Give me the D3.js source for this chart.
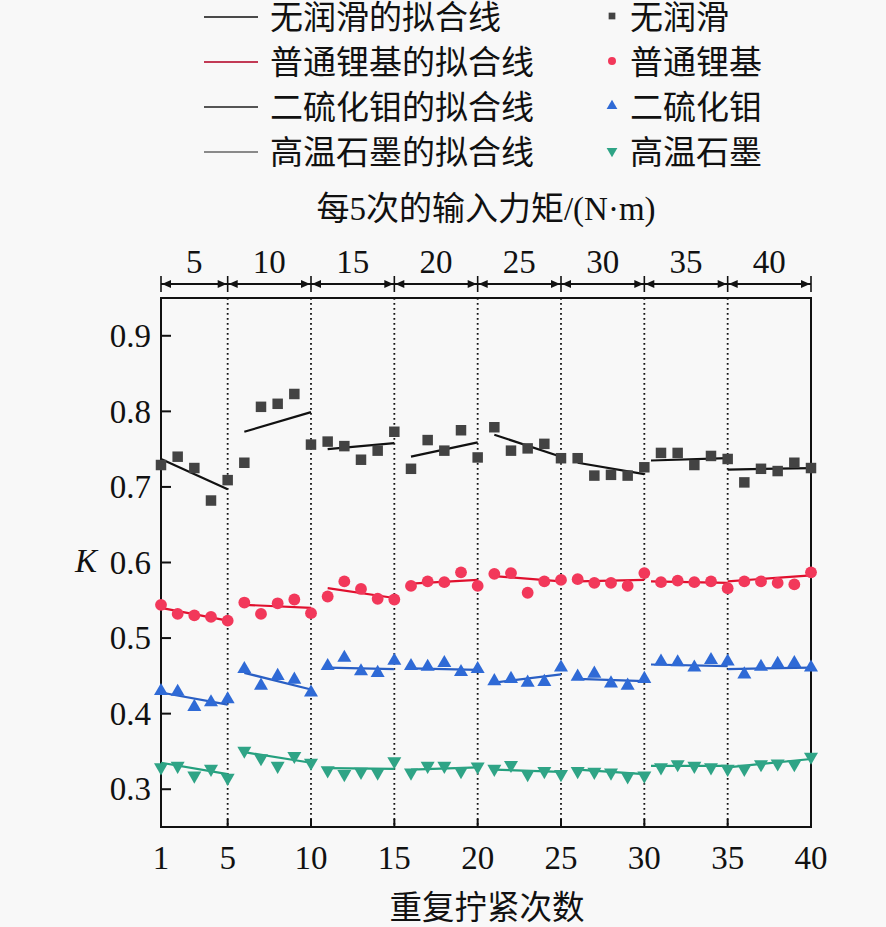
<!DOCTYPE html>
<html>
<head>
<meta charset="utf-8">
<script src="https://cdn.jsdelivr.net/npm/d3@7/dist/d3.min.js"></script>
<style>
  body { margin: 0; background: #f8f8f8; }
  svg { display: block; }
  text { font-family: "Liberation Serif", "Noto Sans CJK SC", serif; fill: #111; }
</style>
</head>
<body>
<svg id="chart" width="886" height="927"></svg>
<script>
// tightening runs 1..40, ticks on bottom axis
const runTicks = [1, 5, 10, 15, 20, 25, 30, 35, 40]
const kTicks = [0.3, 0.4, 0.5, 0.6, 0.7, 0.8, 0.9]
// input torque for every group of 5 runs (top axis)
const torqueLabels = ['5', '10', '15', '20', '25', '30', '35', '40']
const groupBounds = [1, 5, 10, 15, 20, 25, 30, 35, 40]

const seriesNames = ['无润滑', '普通锂基', '二硫化钼', '高温石墨']

const noLube = [0.729, 0.740, 0.725, 0.682, 0.709, 0.732, 0.806, 0.810, 0.823, 0.756,
    0.760, 0.754, 0.736, 0.748, 0.773, 0.724, 0.762, 0.748, 0.775, 0.739,
    0.779, 0.748, 0.751, 0.757, 0.738, 0.738, 0.715, 0.716, 0.715, 0.726,
    0.745, 0.745, 0.729, 0.741, 0.737, 0.706, 0.724, 0.721, 0.732, 0.725]
const lithium = [0.544, 0.532, 0.530, 0.528, 0.523, 0.547, 0.532, 0.546, 0.551, 0.533,
    0.555, 0.575, 0.565, 0.552, 0.551, 0.569, 0.575, 0.574, 0.587, 0.569,
    0.585, 0.586, 0.560, 0.575, 0.577, 0.578, 0.573, 0.573, 0.569, 0.586,
    0.574, 0.576, 0.574, 0.575, 0.566, 0.575, 0.575, 0.573, 0.571, 0.587]
const moS2 = [0.430, 0.429, 0.409, 0.415, 0.419, 0.459, 0.437, 0.450, 0.445, 0.428,
    0.463, 0.474, 0.456, 0.454, 0.470, 0.463, 0.462, 0.467, 0.455, 0.459,
    0.443, 0.446, 0.441, 0.442, 0.461, 0.449, 0.453, 0.440, 0.437, 0.446,
    0.469, 0.468, 0.461, 0.471, 0.469, 0.452, 0.462, 0.466, 0.467, 0.461]
const graphite = [0.329, 0.331, 0.318, 0.327, 0.315, 0.351, 0.341, 0.331, 0.344, 0.335,
    0.325, 0.320, 0.323, 0.322, 0.337, 0.322, 0.331, 0.331, 0.324, 0.330,
    0.327, 0.332, 0.320, 0.324, 0.320, 0.324, 0.323, 0.322, 0.317, 0.318,
    0.329, 0.333, 0.331, 0.329, 0.327, 0.327, 0.333, 0.334, 0.333, 0.343]

// fitted lines, one [start, end] value pair per group
const fitStarts = [1, 6, 11, 16, 21, 26, 30.4, 35]
const fitEnds = [5, 10, 15, 20, 25, 30, 35, 40]
const noLubeFit = [[0.737, 0.697], [0.773, 0.799], [0.750, 0.758], [0.740, 0.759],
    [0.769, 0.740], [0.732, 0.717], [0.735, 0.738], [0.723, 0.725]]
const lithiumFit = [[0.540, 0.523], [0.544, 0.540], [0.566, 0.553], [0.572, 0.577],
    [0.582, 0.575], [0.575, 0.577], [0.575, 0.573], [0.575, 0.583]]
const moS2Fit = [[0.428, 0.412], [0.454, 0.432], [0.461, 0.459], [0.460, 0.458],
    [0.441, 0.452], [0.446, 0.443], [0.465, 0.463], [0.459, 0.461]]
const graphiteFit = [[0.335, 0.320], [0.349, 0.335], [0.328, 0.327], [0.326, 0.329],
    [0.326, 0.323], [0.326, 0.320], [0.331, 0.331], [0.329, 0.340]]

const styles = [
    { values: noLube, fit: noLubeFit, symbol: d3.symbolSquare, size: 110, rot: 0, fill: '#434343', line: '#111', legendLine: '#4a4a4a' },
    { values: lithium, fit: lithiumFit, symbol: d3.symbolCircle, size: 110, rot: 0, fill: '#f2385a', line: '#e0102e', legendLine: '#c23a55' },
    { values: moS2, fit: moS2Fit, symbol: d3.symbolTriangle, size: 85, rot: 0, fill: '#2f6ad6', line: '#2a5fc4', legendLine: '#555' },
    { values: graphite, fit: graphiteFit, symbol: d3.symbolTriangle, size: 85, rot: 180, fill: '#2fa486', line: '#24a07e', legendLine: '#8a8a8a' }
]

const plot = { left: 161, right: 811, top: 298, bottom: 827 }

const svg = d3.select('#chart')

const x = d3.scaleLinear().domain([1, 40]).range([plot.left, plot.right])
const y = d3.scaleLinear().domain([0.25, 0.95]).range([plot.bottom, plot.top])

function drawFrame() {
    // dotted separators between torque groups
    svg.append('g').selectAll('line')
        .data(groupBounds.slice(1, -1))
        .join('line')
        .attr('x1', d => x(d)).attr('x2', d => x(d))
        .attr('y1', plot.top).attr('y2', plot.bottom)
        .attr('stroke', '#111')
        .attr('stroke-width', 1.8)
        .attr('stroke-dasharray', '1.8,3.2')

    svg.append('rect')
        .attr('x', plot.left).attr('y', plot.top)
        .attr('width', plot.right - plot.left)
        .attr('height', plot.bottom - plot.top)
        .attr('fill', 'none')
        .attr('stroke', '#111')
        .attr('stroke-width', 2)
}

function drawAxes() {
    const gy = svg.append('g')
    gy.selectAll('line')
        .data(kTicks)
        .join('line')
        .attr('x1', plot.left).attr('x2', plot.left + 10)
        .attr('y1', d => y(d)).attr('y2', d => y(d))
        .attr('stroke', '#111').attr('stroke-width', 2)
    gy.selectAll('text')
        .data(kTicks)
        .join('text')
        .attr('x', 151)
        .attr('y', d => y(d))
        .attr('dy', '0.34em')
        .attr('text-anchor', 'end')
        .attr('font-size', 33)
        .text(d => d3.format('.1f')(d))

    const gx = svg.append('g')
    gx.selectAll('line')
        .data(runTicks)
        .join('line')
        .attr('x1', d => x(d)).attr('x2', d => x(d))
        .attr('y1', plot.bottom).attr('y2', plot.bottom - 8)
        .attr('stroke', '#111').attr('stroke-width', 2)
    gx.selectAll('text')
        .data(runTicks)
        .join('text')
        .attr('x', d => x(d))
        .attr('y', 869)
        .attr('text-anchor', 'middle')
        .attr('font-size', 33)
        .text(d => d)

    svg.append('text')
        .attr('x', 487).attr('y', 919)
        .attr('text-anchor', 'middle')
        .attr('font-size', 32.5)
        .text('重复拧紧次数')

    svg.append('text')
        .attr('x', 86).attr('y', 572)
        .attr('text-anchor', 'middle')
        .attr('font-size', 33)
        .attr('font-style', 'italic')
        .text('K')
}

function drawTorqueAxis() {
    const yLine = 284
    const g = svg.append('g')
    g.append('line')
        .attr('x1', x(1)).attr('x2', x(40))
        .attr('y1', yLine).attr('y2', yLine)
        .attr('stroke', '#111').attr('stroke-width', 2)
    g.selectAll('.bar')
        .data(groupBounds)
        .join('line')
        .attr('class', 'bar')
        .attr('x1', d => x(d)).attr('x2', d => x(d))
        .attr('y1', yLine - 8).attr('y2', yLine + 8)
        .attr('stroke', '#111').attr('stroke-width', 1.6)
    // arrowheads pointing out to each bar
    const heads = []
    groupBounds.forEach(function (d, i) {
        if (i > 0) heads.push({ at: d, dir: 1 })
        if (i < groupBounds.length - 1) heads.push({ at: d, dir: -1 })
    })
    g.selectAll('.head')
        .data(heads)
        .join('path')
        .attr('class', 'head')
        .attr('d', function (h) {
            const px = x(h.at) - h.dir * 1
            return 'M' + px + ',' + yLine + 'L' + (px - h.dir * 9) + ',' + (yLine - 4) +
                'L' + (px - h.dir * 9) + ',' + (yLine + 4) + 'Z'
        })
        .attr('fill', '#111')

    g.selectAll('text')
        .data(torqueLabels)
        .join('text')
        .attr('x', (d, i) => (x(groupBounds[i]) + x(groupBounds[i + 1])) / 2)
        .attr('y', 273)
        .attr('text-anchor', 'middle')
        .attr('font-size', 33)
        .text(d => d)

    svg.append('text')
        .attr('x', 486).attr('y', 220)
        .attr('text-anchor', 'middle')
        .attr('font-size', 33)
        .text('每5次的输入力矩/(N·m)')
}

function drawSeries(s) {
    const g = svg.append('g')
    const fits = s.fit.map(function (f, i) {
        return [[fitStarts[i], f[0]], [fitEnds[i], f[1]]]
    })
    g.selectAll('.fit')
        .data(fits)
        .join('path')
        .attr('class', 'fit')
        .attr('d', d3.line().x(d => x(d[0])).y(d => y(d[1])))
        .attr('fill', 'none')
        .attr('stroke', s.line)
        .attr('stroke-width', 2.2)

    g.selectAll('.pt')
        .data(s.values)
        .join('path')
        .attr('class', 'pt')
        .attr('transform', (d, i) => 'translate(' + x(i + 1) + ',' + y(d) + ') rotate(' + s.rot + ')')
        .attr('d', d3.symbol().type(s.symbol).size(s.size))
        .attr('fill', s.fill)
}

function drawLegend() {
    const rows = [17, 62, 107, 152]
    const g = svg.append('g')
    styles.forEach(function (s, i) {
        g.append('line')
            .attr('x1', 204).attr('x2', 258)
            .attr('y1', rows[i]).attr('y2', rows[i])
            .attr('stroke', s.legendLine)
            .attr('stroke-width', 2)
        g.append('text')
            .attr('x', 270).attr('y', rows[i] + 12)
            .attr('font-size', 33)
            .text(seriesNames[i] + '的拟合线')
        g.append('path')
            .attr('transform', 'translate(612,' + (rows[i] - 1) + ') rotate(' + s.rot + ')')
            .attr('d', d3.symbol().type(s.symbol).size(i === 0 ? 45 : 50))
            .attr('fill', s.fill)
        g.append('text')
            .attr('x', 630).attr('y', rows[i] + 12)
            .attr('font-size', 33)
            .text(seriesNames[i])
    })
}

drawFrame()
styles.forEach(drawSeries)
drawAxes()
drawTorqueAxis()
drawLegend()
</script>
</body>
</html>
